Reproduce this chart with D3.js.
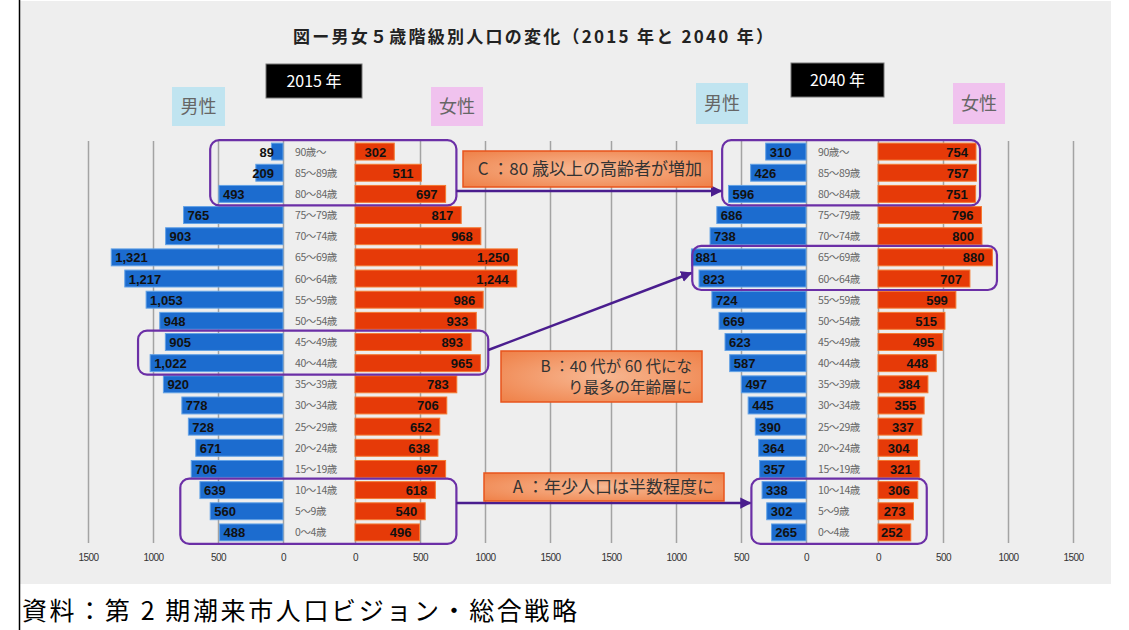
<!DOCTYPE html>
<html>
<head>
<meta charset="utf-8">
<script src="https://cdn.jsdelivr.net/npm/d3@7"></script>
<style>
  body { margin: 0; background: #fff; }
  svg { display: block; }
</style>
</head>
<body>
<div id="vis"></div>
<script>
// age groups, bottom to top
var ages = ["0〜4歳", "5〜9歳", "10〜14歳", "15〜19歳", "20〜24歳", "25〜29歳", "30〜34歳",
            "35〜39歳", "40〜44歳", "45〜49歳", "50〜54歳", "55〜59歳", "60〜64歳", "65〜69歳",
            "70〜74歳", "75〜79歳", "80〜84歳", "85〜89歳", "90歳〜"];

var male2015   = [488, 560, 639, 706, 671, 728, 778, 920, 1022, 905, 948, 1053, 1217, 1321, 903, 765, 493, 209, 89];
var female2015 = [496, 540, 618, 697, 638, 652, 706, 783, 965, 893, 933, 986, 1244, 1250, 968, 817, 697, 511, 302];
var male2040   = [265, 302, 338, 357, 364, 390, 445, 497, 587, 623, 669, 724, 823, 881, 738, 686, 596, 426, 310];
var female2040 = [252, 273, 306, 321, 304, 337, 355, 384, 448, 495, 515, 599, 707, 880, 800, 796, 751, 757, 754];

var tickValues = [0, 500, 1000, 1500];

// highlighted age ranges (extent given in population units)
var highlights2015 = [
    {top: "90歳〜", bottom: "80〜84歳", male: 560, female: 780},
    {top: "45〜49歳", bottom: "40〜44歳", male: 1115, female: 1025},
    {top: "10〜14歳", bottom: "0〜4歳", male: 790, female: 780}
];
var highlights2040 = [
    {top: "90歳〜", bottom: "80〜84歳", male: 645, female: 785},
    {top: "65〜69歳", bottom: "60〜64歳", male: 875, female: 915},
    {top: "10〜14歳", bottom: "0〜4歳", male: 420, female: 375}
];

var notes = [
    {lines: ["C ：80 歳以上の高齢者が増加"], x: 463, y: 151, w: 249, h: 36},
    {lines: ["B ：40 代が 60 代にな", "り最多の年齢層に"], x: 501, y: 351, w: 201, h: 51},
    {lines: ["A ：年少人口は半数程度に"], x: 484, y: 473, w: 240, h: 28}
];

var width = 1129, height = 630;
var jp = "'Noto Sans CJK JP', 'Noto Sans', sans-serif";
var num = "'Liberation Sans', Arial, sans-serif";

var svg = d3.select("#vis").append("svg")
    .attr("width", width)
    .attr("height", height);

var defs = svg.append("defs");
var grad = defs.append("radialGradient").attr("id", "noteFill")
    .attr("cx", "50%").attr("cy", "50%").attr("r", "70%");
grad.append("stop").attr("offset", "0%").attr("stop-color", "#f7b893");
grad.append("stop").attr("offset", "100%").attr("stop-color", "#ef8047");

defs.append("marker").attr("id", "arrow")
    .attr("viewBox", "0 0 10 10")
    .attr("refX", 9).attr("refY", 5)
    .attr("markerWidth", 4.5).attr("markerHeight", 4.5)
    .attr("orient", "auto")
    .append("path").attr("d", "M0,0L10,5L0,10Z").attr("fill", "#4a1d8e");

// frame + grey picture area
svg.append("rect").attr("x", 20).attr("y", 1).attr("width", 1091).attr("height", 583).attr("fill", "#eeeeee");
svg.append("line").attr("x1", 19.5).attr("x2", 19.5).attr("y1", 0).attr("y2", height).attr("stroke", "#000").attr("stroke-width", 1.5);

svg.append("text")
    .attr("x", 293).attr("y", 43)
    .attr("font-family", jp).attr("font-size", 17).attr("font-weight", "bold")
    .attr("fill", "#222")
    .attr("textLength", 480).attr("lengthAdjust", "spacing")
    .text("図ー男女５歳階級別人口の変化（2015 年と 2040 年）");

svg.append("text")
    .attr("x", 22).attr("y", 620)
    .attr("font-family", jp).attr("font-size", 25)
    .attr("fill", "#000")
    .attr("textLength", 555).attr("lengthAdjust", "spacing")
    .text("資料：第 2 期潮来市人口ビジョン・総合戦略");

var y = d3.scaleBand()
    .domain(ages.slice().reverse())
    .range([141, 543])
    .paddingInner(0.2)
    .paddingOuter(0.1);

var fmt = d3.format(",");

var pyramids = [
    {year: "2015 年", male: male2015, female: female2015, zeroM: 283, zeroF: 355, hl: highlights2015,
     yearBox: [266, 64, 96, 34], maleBox: [172, 87, 53, 39], femaleBox: [431, 87, 52, 39]},
    {year: "2040 年", male: male2040, female: female2040, zeroM: 806, zeroF: 878, hl: highlights2040,
     yearBox: [791, 63, 93, 34], maleBox: [696, 83, 52, 41], femaleBox: [953, 83, 52, 41]}
];

pyramids.forEach(function(p) {
    var xM = d3.scaleLinear().domain([0, 1500]).range([p.zeroM, p.zeroM - 195]);
    var xF = d3.scaleLinear().domain([0, 1500]).range([p.zeroF, p.zeroF + 195]);
    var g = svg.append("g");

    // grid + tick labels
    [xM, xF].forEach(function(sc) {
        var ax = g.append("g")
            .attr("transform", "translate(0,543)")
            .call(d3.axisBottom(sc).tickValues(tickValues).tickSize(-402).tickPadding(11).tickFormat(d3.format("d")));
        ax.select(".domain").remove();
        ax.selectAll("line").attr("stroke", "#a3a3a3").attr("stroke-width", 1.5);
        ax.selectAll("text")
            .attr("font-family", num).attr("font-size", 10)
            .attr("letter-spacing", -0.6)
            .attr("fill", "#333");
    });

    // header boxes
    g.append("rect").attr("x", p.yearBox[0]).attr("y", p.yearBox[1])
        .attr("width", p.yearBox[2]).attr("height", p.yearBox[3])
        .attr("fill", "#000").attr("stroke", "#777");
    g.append("text").attr("x", p.yearBox[0] + p.yearBox[2] / 2).attr("y", p.yearBox[1] + p.yearBox[3] / 2 + 6)
        .attr("text-anchor", "middle").attr("font-family", jp).attr("font-size", 16)
        .attr("fill", "#fff").text(p.year);

    [[p.maleBox, "#c0e4f0", "男性"], [p.femaleBox, "#f0c2ee", "女性"]].forEach(function(b) {
        g.append("rect").attr("x", b[0][0]).attr("y", b[0][1])
            .attr("width", b[0][2]).attr("height", b[0][3]).attr("fill", b[1]);
        g.append("text").attr("x", b[0][0] + b[0][2] / 2).attr("y", b[0][1] + b[0][3] / 2 + 6)
            .attr("text-anchor", "middle").attr("font-family", jp).attr("font-size", 18)
            .attr("fill", "#666").text(b[2]);
    });

    var rows = ages.map(function(a, i) { return {age: a, m: p.male[i], f: p.female[i]}; });

    // male bars
    g.selectAll(".m").data(rows).enter().append("rect")
        .attr("x", function(d) { return xM(d.m); })
        .attr("y", function(d) { return y(d.age); })
        .attr("width", function(d) { return p.zeroM - xM(d.m); })
        .attr("height", y.bandwidth())
        .attr("fill", "#1c6ccf")
        .attr("stroke", "#63a2e6").attr("stroke-width", 1);

    // female bars
    g.selectAll(".f").data(rows).enter().append("rect")
        .attr("x", p.zeroF)
        .attr("y", function(d) { return y(d.age); })
        .attr("width", function(d) { return xF(d.f) - p.zeroF; })
        .attr("height", y.bandwidth())
        .attr("fill", "#e63a08")
        .attr("stroke", "#f47a32").attr("stroke-width", 1);

    // value labels
    g.selectAll(".mt").data(rows).enter().append("text")
        .attr("x", function(d) { return d.m < 300 ? p.zeroM - 9 : xM(d.m) + 4; })
        .attr("text-anchor", function(d) { return d.m < 300 ? "end" : "start"; })
        .attr("y", function(d) { return y(d.age) + y.bandwidth() / 2 + 5; })
        .attr("font-family", num).attr("font-size", 13).attr("font-weight", "bold")
        .attr("fill", "#111")
        .text(function(d) { return fmt(d.m); });

    g.selectAll(".ft").data(rows).enter().append("text")
        .attr("x", function(d) { return xF(d.f) - 8; })
        .attr("text-anchor", "end")
        .attr("y", function(d) { return y(d.age) + y.bandwidth() / 2 + 5; })
        .attr("font-family", num).attr("font-size", 13).attr("font-weight", "bold")
        .attr("fill", "#111")
        .text(function(d) { return fmt(d.f); });

    // age labels
    g.selectAll(".age").data(rows).enter().append("text")
        .attr("x", p.zeroM + 12)
        .attr("y", function(d) { return y(d.age) + y.bandwidth() / 2 + 4; })
        .attr("font-family", jp).attr("font-size", 10.5)
        .attr("letter-spacing", -0.4)
        .attr("fill", "#666")
        .text(function(d) { return d.age; });

    // highlight boxes
    p.hl.forEach(function(h) {
        var y0 = y(h.top) - 3, y1 = y(h.bottom) + y.bandwidth() + 3;
        h.left = xM(h.male);
        h.right = xF(h.female);
        g.append("rect")
            .attr("x", h.left).attr("y", y0)
            .attr("width", h.right - h.left).attr("height", y1 - y0)
            .attr("rx", 9)
            .attr("fill", "none").attr("stroke", "#6b2fa6").attr("stroke-width", 2.2);
    });
});

// arrows between highlight boxes
var arrowY = [[191, 191], [350, 273], [503, 503]];
highlights2015.forEach(function(h, i) {
    svg.append("line")
        .attr("x1", h.right).attr("y1", arrowY[i][0])
        .attr("x2", highlights2040[i].left - 1).attr("y2", arrowY[i][1])
        .attr("stroke", "#4a1d8e").attr("stroke-width", 2.5)
        .attr("marker-end", "url(#arrow)");
});

// note boxes
notes.forEach(function(n) {
    svg.append("rect").attr("x", n.x).attr("y", n.y).attr("width", n.w).attr("height", n.h)
        .attr("fill", "url(#noteFill)").attr("stroke", "#e8541c").attr("stroke-width", 1.5);
    var multi = n.lines.length > 1;
    n.lines.forEach(function(l, i) {
        svg.append("text")
            .attr("x", n.x + n.w - 10)
            .attr("y", multi ? n.y + 21 + i * 21 : n.y + n.h / 2 + 6)
            .attr("text-anchor", "end")
            .attr("font-family", jp).attr("font-size", multi ? 15.5 : 17)
            .attr("fill", "#333")
            .text(l);
    });
});
</script>
</body>
</html>
